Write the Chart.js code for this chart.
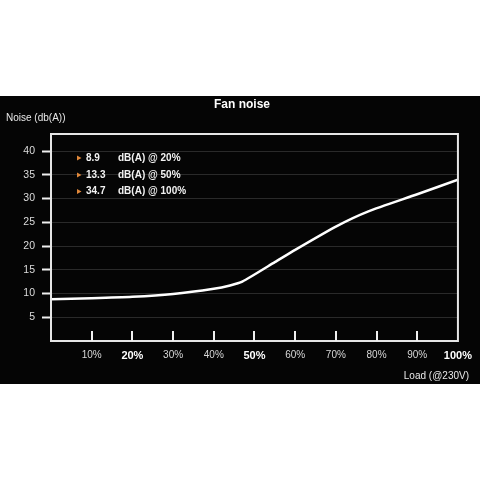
<!DOCTYPE html>
<html>
<head>
<meta charset="utf-8">
<script src="https://cdn.jsdelivr.net/npm/chart.js@4.4.1/dist/chart.umd.min.js"></script>
<style>
html,body{margin:0;padding:0;background:#fff;}
canvas{display:block;}
</style>
</head>
<body>
<canvas id="c" width="480" height="480"></canvas>
<script>
// ---- data ----
const loadPct = [0, 10, 20, 30, 40, 44, 47, 55, 60, 70, 78, 90, 100];
const noiseDb = [8.8, 9.0, 9.3, 9.9, 11.0, 11.7, 12.5, 16.6, 19.2, 24.1, 27.3, 30.9, 34.0];
const yTickValues = [5, 10, 15, 20, 25, 30, 35, 40];
const xTickValues = [10, 20, 30, 40, 50, 60, 70, 80, 90, 100];
const boldXTicks = [20, 50, 100];
const legendValues = ['8.9', '13.3', '34.7'];
const legendLoads = ['20%', '50%', '100%'];
const titleText = 'Fan noise';
const yAxisTitle = 'Noise (db(A))';
const xAxisTitle = 'Load (@230V)';

const FONT = '"Liberation Sans", Arial, Helvetica, sans-serif';

const decor = {
  id: 'decor',
  beforeDraw(chart) {
    const ctx = chart.ctx;
    ctx.save();
    ctx.fillStyle = '#ffffff';
    ctx.fillRect(0, 0, chart.width, chart.height);
    ctx.fillStyle = '#050505';
    ctx.fillRect(0, 96, chart.width, 288);
    ctx.restore();
  },
  afterDraw(chart) {
    const ctx = chart.ctx;
    const a = chart.chartArea;
    const xs = chart.scales.x;
    ctx.save();
    // frame
    ctx.strokeStyle = '#e6e6e6';
    ctx.lineWidth = 2;
    ctx.strokeRect(a.left, a.top, a.right - a.left, a.bottom - a.top);
    // inner x ticks
    ctx.strokeStyle = '#f0f0f0';
    xTickValues.forEach(v => {
      if (v >= 100) return;
      const px = Math.round(xs.getPixelForValue(v));
      ctx.beginPath();
      ctx.moveTo(px, a.bottom);
      ctx.lineTo(px, a.bottom - 10);
      ctx.stroke();
    });
    // title
    ctx.fillStyle = '#ffffff';
    ctx.textBaseline = 'middle';
    ctx.textAlign = 'center';
    ctx.font = 'bold 12px ' + FONT;
    ctx.fillText(titleText, 242, 105);
    // axis titles
    ctx.font = '10px ' + FONT;
    ctx.textAlign = 'left';
    ctx.fillStyle = '#e8e8e8';
    ctx.fillText(yAxisTitle, 6, 118);
    ctx.textAlign = 'right';
    ctx.fillText(xAxisTitle, 469, 376);
    // legend
    const rows = [158, 175, 191.5];
    legendValues.forEach((v, i) => {
      const y = rows[i];
      ctx.fillStyle = '#e0883a';
      ctx.beginPath();
      ctx.moveTo(77, y - 2.5);
      ctx.lineTo(81.5, y);
      ctx.lineTo(77, y + 2.5);
      ctx.closePath();
      ctx.fill();
      ctx.fillStyle = '#f2f2f2';
      ctx.textAlign = 'left';
      ctx.font = 'bold 10px ' + FONT;
      ctx.fillText(v, 86, y);
      ctx.fillText('dB(A) @ ' + legendLoads[i], 118, y);
    });
    ctx.restore();
  }
};

new Chart(document.getElementById('c'), {
  type: 'line',
  data: {
    datasets: [{
      data: loadPct.map((x, i) => ({ x: x, y: noiseDb[i] })),
      borderColor: '#ffffff',
      borderWidth: 2.5,
      pointRadius: 0,
      tension: 0.2,
      fill: false
    }]
  },
  options: {
    responsive: false,
    animation: false,
    devicePixelRatio: 1,
    layout: { padding: { top: 134, left: 0, right: 21, bottom: 109 } },
    plugins: { legend: { display: false }, tooltip: { enabled: false }, title: { display: false } },
    scales: {
      x: {
        type: 'linear',
        min: 0,
        max: 100,
        afterFit(s) { s.height = 30; },
        afterBuildTicks(s) { s.ticks = xTickValues.map(v => ({ value: v })); },
        border: { display: false },
        grid: { display: false, drawTicks: false },
        ticks: {
          padding: 8,
          maxRotation: 0,
          autoSkip: false,
          color(ctx) { return boldXTicks.includes(ctx.tick.value) ? '#ffffff' : '#d8d8d8'; },
          font(ctx) {
            const b = ctx.tick && boldXTicks.includes(ctx.tick.value);
            return { family: FONT, size: b ? 11 : 10, weight: b ? 'bold' : 'normal' };
          },
          callback(v) { return v + '%'; }
        }
      },
      y: {
        type: 'linear',
        min: 0,
        max: 43.6,
        afterFit(s) { s.width = 51; },
        afterBuildTicks(s) { s.ticks = yTickValues.map(v => ({ value: v })); },
        border: { display: false },
        grid: {
          color: '#2a2a2a',
          lineWidth: 1,
          tickColor: '#f0f0f0',
          tickWidth: 2,
          tickLength: 9
        },
        ticks: {
          padding: 7,
          color: '#dcdcdc',
          font: { family: FONT, size: 10.5 },
          callback(v) { return v; }
        }
      }
    }
  },
  plugins: [decor]
});
</script>
</body>
</html>
